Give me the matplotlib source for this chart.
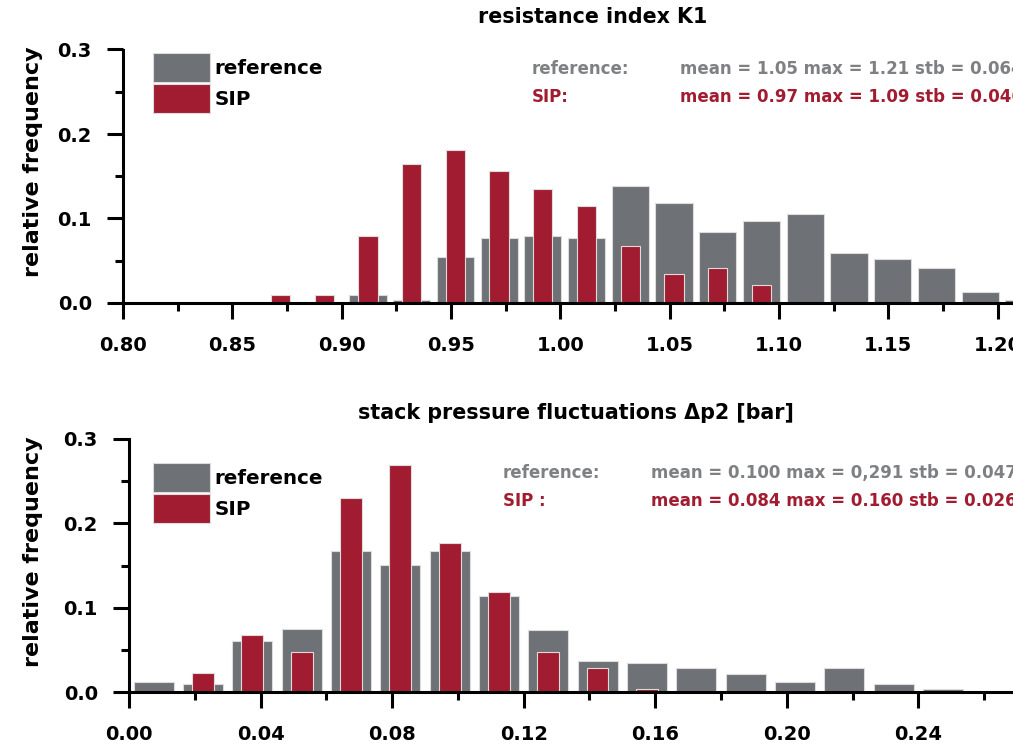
import matplotlib
matplotlib.use("Agg")
import matplotlib.pyplot as plt
from matplotlib.ticker import MultipleLocator, FormatStrFormatter

# ---- resistance index K1 (bin centres and relative frequencies) ----
k1_ref_centers = [0.912, 0.932, 0.952, 0.972, 0.992, 1.012, 1.032, 1.052,
                  1.072, 1.092, 1.112, 1.132, 1.152, 1.172, 1.192, 1.212]
k1_ref_freq = [0.009, 0.003, 0.054, 0.077, 0.079, 0.077, 0.138, 0.118,
               0.084, 0.097, 0.105, 0.059, 0.052, 0.041, 0.013, 0.003]
k1_sip_centers = [0.872, 0.892, 0.912, 0.932, 0.952, 0.972, 0.992, 1.012,
                  1.032, 1.052, 1.072, 1.092]
k1_sip_freq = [0.009, 0.009, 0.079, 0.164, 0.181, 0.156, 0.135, 0.115,
               0.067, 0.034, 0.041, 0.021]

# ---- stack pressure fluctuations dp2 [bar] ----
dp2_ref_centers = [0.0075, 0.0225, 0.0375, 0.0525, 0.0675, 0.0825, 0.0975,
                   0.1125, 0.1275, 0.1425, 0.1575, 0.1725, 0.1875, 0.2025,
                   0.2175, 0.2325, 0.2475]
dp2_ref_freq = [0.012, 0.009, 0.060, 0.075, 0.167, 0.151, 0.167, 0.114,
                0.073, 0.037, 0.034, 0.029, 0.021, 0.012, 0.029, 0.009, 0.004]
dp2_sip_centers = [0.0225, 0.0375, 0.0525, 0.0675, 0.0825, 0.0975, 0.1125,
                   0.1275, 0.1425, 0.1575]
dp2_sip_freq = [0.022, 0.068, 0.047, 0.230, 0.269, 0.177, 0.118, 0.047,
                0.029, 0.004]

series_names = ["reference", "SIP"]
k1_stats = ["mean = 1.05 max = 1.21 stb = 0.064",
            "mean = 0.97 max = 1.09 stb = 0.046"]
dp2_stats = ["mean = 0.100 max = 0,291 stb = 0.047",
             "mean = 0.084 max = 0.160 stb = 0.026"]

GRAY = "#6e7175"
RED = "#a21c31"
GRAY_TXT = "#7e8083"
EDGE = "#dcdcdc"
FONT = "DejaVu Sans"

plt.rcParams["font.family"] = FONT
plt.rcParams["font.weight"] = "bold"

fig = plt.figure(figsize=(10.13, 7.46), dpi=100)
W, H = 1013.0, 746.0


def style_axes(ax, xmaj, xmin, xfmt, label_xy):
    for s in ("top", "right"):
        ax.spines[s].set_visible(False)
    for s in ("left", "bottom"):
        ax.spines[s].set_linewidth(2.2)
    ax.xaxis.set_major_locator(MultipleLocator(xmaj))
    ax.xaxis.set_minor_locator(MultipleLocator(xmin))
    ax.xaxis.set_major_formatter(FormatStrFormatter(xfmt))
    ax.yaxis.set_major_locator(MultipleLocator(0.1))
    ax.yaxis.set_minor_locator(MultipleLocator(0.05))
    ax.yaxis.set_major_formatter(FormatStrFormatter("%.1f"))
    ax.tick_params(which="major", direction="out", length=11.5, width=2.2,
                   labelsize=14, pad=11)
    ax.tick_params(axis="x", which="major", pad=12.5)
    ax.tick_params(which="minor", direction="out", length=5.5, width=2.2)
    for lab in ax.get_xticklabels() + ax.get_yticklabels():
        lab.set_fontweight("bold")
    ax.set_ylim(0, 0.3)
    ax.set_ylabel("relative frequency", fontsize=16, fontweight="bold")
    ax.yaxis.set_label_coords(*label_xy)


def draw_panel(ax, rc, rf, sc, sf, wr, ws):
    ax.bar(rc, rf, width=wr, color=GRAY, edgecolor=EDGE, linewidth=0.8,
           label=series_names[0], zorder=1)
    ax.bar(sc, sf, width=ws, color=RED, edgecolor=EDGE, linewidth=0.8,
           label=series_names[1], zorder=1.2)


# top panel
ax1 = fig.add_axes([123 / W, 1 - 303 / H, 1 - 123 / W, (303 - 49.5) / H])
draw_panel(ax1, k1_ref_centers, k1_ref_freq, k1_sip_centers, k1_sip_freq,
           0.017, 0.0088)
ax1.set_xlim(0.80, 0.80 + 890 / 2186.75)
style_axes(ax1, 0.05, 0.025, "%.2f", (-0.0899, 0.556))

# bottom panel
ax2 = fig.add_axes([129 / W, 1 - 692 / H, 1 - 129 / W, (692 - 439) / H])
draw_panel(ax2, dp2_ref_centers, dp2_ref_freq, dp2_sip_centers, dp2_sip_freq,
           0.0122, 0.0066)
ax2.set_xlim(0.0, 884 / 3288.75)
style_axes(ax2, 0.04, 0.02, "%.2f", (-0.0973, 0.553))

# legends
for ax, top in ((ax1, 53), (ax2, 463)):
    ax.legend(loc="upper left", bbox_to_anchor=(153 / W, 1 - top / H),
              bbox_transform=fig.transFigure, frameon=False,
              prop={"family": FONT, "weight": "bold", "size": 14.3},
              handlelength=2.85, handleheight=1.87, labelspacing=0.1,
              handletextpad=0.25, borderpad=0, borderaxespad=0)

# titles
fig.text(593 / W, 1 - 17 / H, "resistance index K1", ha="center",
         va="center", fontsize=14.9, fontweight="bold")
fig.text(576 / W, 1 - 413 / H, "stack pressure fluctuations \u0394p2 [bar]",
         ha="center", va="center", fontsize=14.9, fontweight="bold")

# summary statistics
for (lx, vx, y0, y1, lab_sip, stats) in (
        (532, 680, 69, 97, "SIP:", k1_stats),
        (503, 651, 473, 501, "SIP :", dp2_stats)):
    fig.text(lx / W, 1 - y0 / H, "reference:", color=GRAY_TXT, ha="left",
             va="center", fontsize=12, fontweight="bold")
    fig.text(vx / W, 1 - y0 / H, stats[0], color=GRAY_TXT, ha="left",
             va="center", fontsize=12, fontweight="bold")
    fig.text(lx / W, 1 - y1 / H, lab_sip, color=RED, ha="left",
             va="center", fontsize=12, fontweight="bold")
    fig.text(vx / W, 1 - y1 / H, stats[1], color=RED, ha="left",
             va="center", fontsize=12, fontweight="bold")

fig.savefig("out.png", dpi=100)
